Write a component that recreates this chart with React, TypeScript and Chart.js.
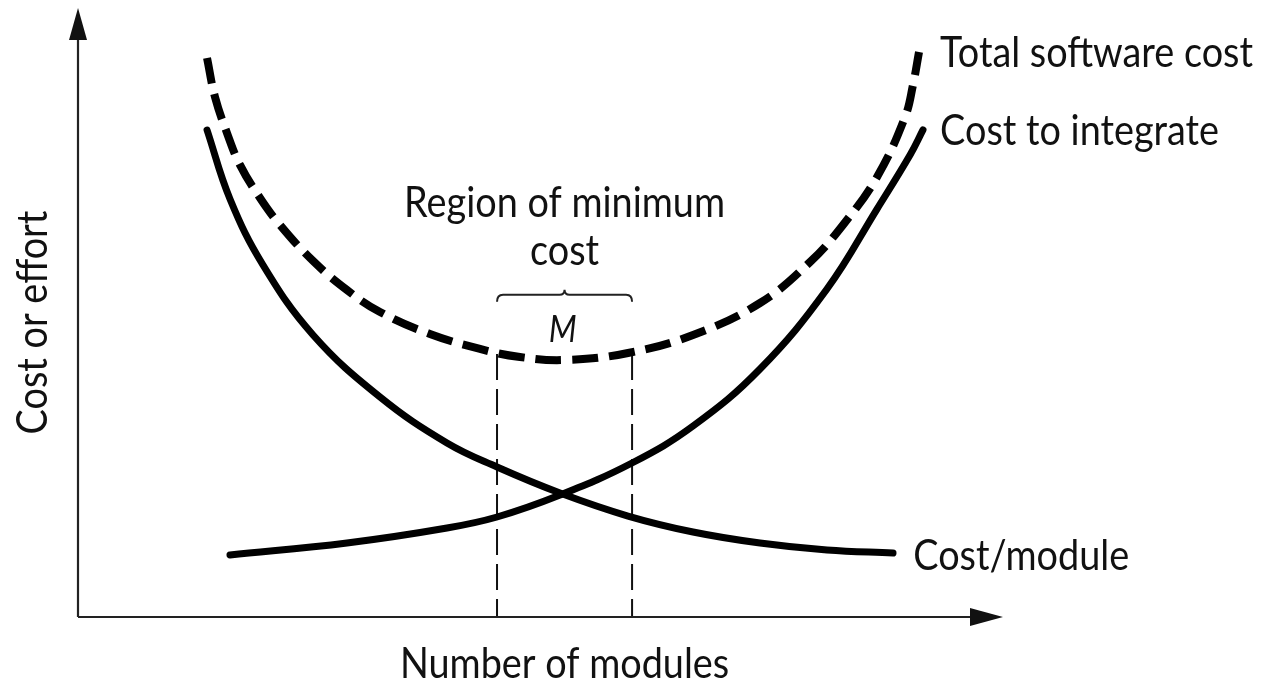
import React, { useEffect, useRef } from "react";
import { Chart, registerables } from "chart.js";

Chart.register(...registerables);

// ---- data (conceptual units: 0..100 on both axes) ----
const costPerModuleX = [13.95, 16.43, 20.0, 25.41, 32.65, 39.89, 45.3, 52.11, 59.46, 66.49, 73.73, 80.97, 88.11];
const costPerModuleY = [79.97, 68.64, 57.8, 46.31, 36.12, 28.57, 24.63, 20.36, 16.58, 13.96, 12.15, 11.0, 10.51];

const costToIntegrateX = [16.43, 29.08, 39.89, 45.3, 52.11, 59.89, 66.49, 73.73, 80.97, 86.38, 89.95, 91.35];
const costToIntegrateY = [10.18, 12.15, 14.61, 16.42, 20.03, 25.29, 31.36, 40.72, 53.86, 66.99, 75.86, 79.97];

const totalCostX = [13.95, 14.81, 16.11, 17.51, 19.68, 21.84, 25.41, 29.08, 32.65, 38.05, 43.46, 47.78, 52.65, 59.46, 66.49, 73.73, 79.14, 82.7, 86.38, 89.41, 90.27, 90.92];
const totalCostY = [91.79, 85.39, 79.47, 74.24, 68.8, 64.37, 58.46, 53.69, 50.08, 46.47, 44.01, 42.69, 42.2, 43.35, 46.31, 51.56, 58.29, 64.37, 72.25, 82.1, 87.36, 92.78];

const regionBounds = [45.3, 59.9]; // x of the minimum-cost region
const regionTop = 43.2;           // where the dashed guides start
const regionMid = 52.6;

const seriesLabels = ["Total software cost", "Cost to integrate", "Cost/module"];
const regionLabel = ["Region of minimum", "cost"];
const regionSymbol = "M";
const xTitle = "Number of modules";
const yTitle = "Cost or effort";

const toPoints = (xs: number[], ys: number[]) => xs.map((x, i) => ({ x, y: ys[i] }));

const FONT = "Lato, 'Liberation Sans', sans-serif";
const SQUEEZE = 0.9;
const INK = "#111";

function drawText(
  ctx: CanvasRenderingContext2D,
  text: string,
  px: number,
  py: number,
  align: CanvasTextAlign,
  size: number,
  italic = false,
  rotate = 0
) {
  ctx.save();
  ctx.translate(px, py);
  if (rotate) ctx.rotate(rotate);
  ctx.scale(SQUEEZE, 1);
  ctx.font = `${italic ? "italic " : ""}${size}px ${FONT}`;
  ctx.textAlign = align;
  ctx.textBaseline = "alphabetic";
  ctx.fillStyle = INK;
  ctx.fillText(text, 0, 0);
  ctx.restore();
}

const annotations = {
  id: "annotations",
  afterDatasetsDraw(chart: any) {
    const { ctx, chartArea, scales } = chart;
    const xs = scales.x;
    const ys = scales.y;
    const left = chartArea.left;
    const bottom = chartArea.bottom;
    const right = chartArea.right;
    const top = chartArea.top;

    // axes with arrowheads
    ctx.save();
    ctx.strokeStyle = "#222";
    ctx.fillStyle = "#111";
    ctx.lineWidth = 2.2;
    ctx.beginPath();
    ctx.moveTo(left, bottom);
    ctx.lineTo(left, top + 25);
    ctx.moveTo(left, bottom);
    ctx.lineTo(right - 25, bottom);
    ctx.stroke();
    ctx.beginPath();
    ctx.moveTo(left, top);
    ctx.lineTo(left - 9, top + 32);
    ctx.lineTo(left + 9, top + 32);
    ctx.closePath();
    ctx.fill();
    ctx.beginPath();
    ctx.moveTo(right, bottom);
    ctx.lineTo(right - 33, bottom - 9);
    ctx.lineTo(right - 33, bottom + 9);
    ctx.closePath();
    ctx.fill();

    // brace above the region
    const bx0 = xs.getPixelForValue(regionBounds[0]);
    const bx1 = xs.getPixelForValue(regionBounds[1]);
    const bm = xs.getPixelForValue(regionMid);
    const by = ys.getPixelForValue(52.9);
    ctx.lineWidth = 2;
    ctx.strokeStyle = "#222";
    ctx.beginPath();
    ctx.moveTo(bx0, by + 7);
    ctx.quadraticCurveTo(bx0, by, bx0 + 6, by);
    ctx.lineTo(bm - 5, by);
    ctx.quadraticCurveTo(bm, by, bm, by - 5);
    ctx.quadraticCurveTo(bm, by, bm + 5, by);
    ctx.lineTo(bx1 - 6, by);
    ctx.quadraticCurveTo(bx1, by, bx1, by + 7);
    ctx.stroke();
    ctx.restore();

    // texts
    const txt = 93.2;
    drawText(ctx, seriesLabels[0], xs.getPixelForValue(txt), ys.getPixelForValue(90.3), "left", 42);
    drawText(ctx, seriesLabels[1], xs.getPixelForValue(txt), ys.getPixelForValue(77.5), "left", 42);
    drawText(ctx, seriesLabels[2], xs.getPixelForValue(90.3), ys.getPixelForValue(7.7), "left", 42);
    drawText(ctx, regionLabel[0], xs.getPixelForValue(regionMid), ys.getPixelForValue(65.7), "center", 42);
    drawText(ctx, regionLabel[1], xs.getPixelForValue(regionMid), ys.getPixelForValue(57.8), "center", 42);
    drawText(ctx, regionSymbol, xs.getPixelForValue(52.4), ys.getPixelForValue(45.2), "center", 36, true);
    drawText(ctx, xTitle, xs.getPixelForValue(regionMid), bottom + 61, "center", 42);
    drawText(ctx, yTitle, left - 31, (top + bottom) / 2 + 10, "center", 42, false, -Math.PI / 2);
  },
};

export default function App() {
  const canvasRef = useRef<HTMLCanvasElement | null>(null);

  useEffect(() => {
    if (!canvasRef.current) return;
    const curve = {
      borderColor: "#000",
      pointRadius: 0,
      fill: false,
      tension: 0.4,
    };
    const chart = new Chart(canvasRef.current, {
      type: "line",
      data: {
        datasets: [
          {
            ...curve,
            label: seriesLabels[0],
            data: toPoints(totalCostX, totalCostY),
            borderWidth: 8,
            borderDash: [26, 11],
            borderCapStyle: "butt",
          },
          {
            ...curve,
            label: seriesLabels[1],
            data: toPoints(costToIntegrateX, costToIntegrateY),
            borderWidth: 7,
            borderCapStyle: "round",
          },
          {
            ...curve,
            label: seriesLabels[2],
            data: toPoints(costPerModuleX, costPerModuleY),
            borderWidth: 7,
            borderCapStyle: "round",
          },
          {
            label: "region-left",
            data: [
              { x: regionBounds[0], y: regionTop },
              { x: regionBounds[0], y: 0 },
            ],
            borderColor: "#111",
            borderWidth: 2,
            borderDash: [26, 9],
            pointRadius: 0,
            fill: false,
          },
          {
            label: "region-right",
            data: [
              { x: regionBounds[1], y: regionTop },
              { x: regionBounds[1], y: 0 },
            ],
            borderColor: "#111",
            borderWidth: 2,
            borderDash: [26, 9],
            pointRadius: 0,
            fill: false,
          },
        ],
      },
      options: {
        animation: false,
        responsive: false,
        clip: false as any,
        layout: { padding: { left: 78, right: 260, top: 8, bottom: 66 } },
        scales: {
          x: { type: "linear", min: 0, max: 100, display: false },
          y: { type: "linear", min: 0, max: 100, display: false },
        },
        plugins: {
          legend: { display: false },
          tooltip: { enabled: false },
        },
      },
      plugins: [annotations],
    });
    return () => chart.destroy();
  }, []);

  return (
    <div style={{ position: "fixed", left: 0, top: 0, width: 1263, height: 683, background: "#fff" }}>
      <canvas ref={canvasRef} width={1263} height={683} />
    </div>
  );
}
